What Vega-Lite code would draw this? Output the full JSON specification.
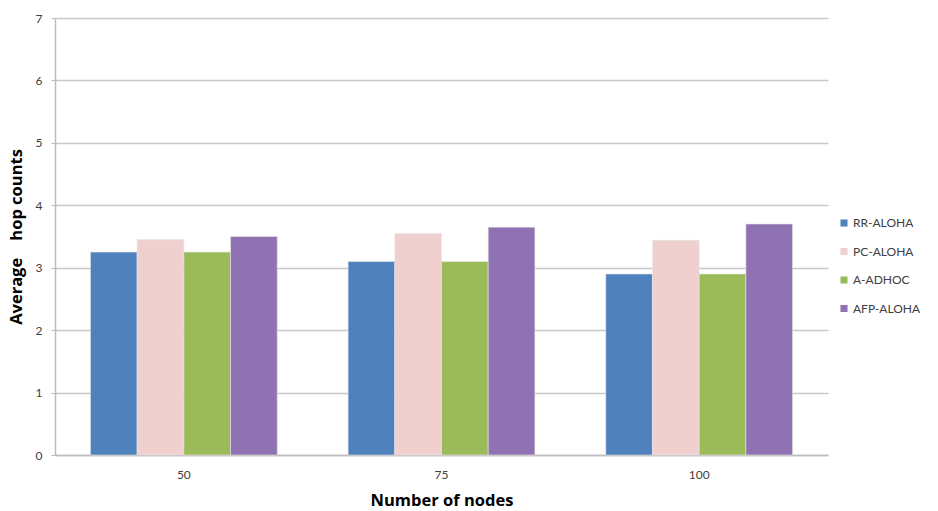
{
  "$schema": "https://vega.github.io/schema/vega-lite/v6.json",
  "width": 773,
  "height": 437,
  "autosize": {"type": "none"},
  "padding": {"left": 55, "top": 18, "right": 110, "bottom": 56},
  "background": "white",
  "data": {
    "values": [
      {"nodes": "50", "protocol": "RR-ALOHA", "hops": 3.25},
      {"nodes": "50", "protocol": "PC-ALOHA", "hops": 3.45},
      {"nodes": "50", "protocol": "A-ADHOC", "hops": 3.25},
      {"nodes": "50", "protocol": "AFP-ALOHA", "hops": 3.5},
      {"nodes": "75", "protocol": "RR-ALOHA", "hops": 3.1},
      {"nodes": "75", "protocol": "PC-ALOHA", "hops": 3.55},
      {"nodes": "75", "protocol": "A-ADHOC", "hops": 3.1},
      {"nodes": "75", "protocol": "AFP-ALOHA", "hops": 3.65},
      {"nodes": "100", "protocol": "RR-ALOHA", "hops": 2.9},
      {"nodes": "100", "protocol": "PC-ALOHA", "hops": 3.44},
      {"nodes": "100", "protocol": "A-ADHOC", "hops": 2.9},
      {"nodes": "100", "protocol": "AFP-ALOHA", "hops": 3.7}
    ]
  },
  "config": {
    "font": "Lato",
    "view": {"stroke": null},
    "axis": {
      "labelFont": "Lato",
      "labelColor": "#404040",
      "labelFontSize": 12,
      "titleFont": "Open Sans",
      "titleFontWeight": "bold",
      "titleFontSize": 16.5,
      "titleColor": "#000000",
      "domainColor": "#BDBDBD",
      "gridColor": "#C8C8C8",
      "tickColor": "#BDBDBD"
    }
  },
  "mark": {"type": "bar", "stroke": "#E8E8E8", "strokeWidth": 0.6},
  "encoding": {
    "x": {
      "field": "nodes",
      "type": "nominal",
      "sort": ["50", "75", "100"],
      "scale": {"paddingInner": 0.275, "paddingOuter": 0.1375},
      "axis": {
        "title": "Number of nodes",
        "labelAngle": 0,
        "ticks": false,
        "labelPadding": 14,
        "titlePadding": 12,
        "domainWidth": 1.5
      }
    },
    "xOffset": {
      "field": "protocol",
      "type": "nominal",
      "sort": ["RR-ALOHA", "PC-ALOHA", "A-ADHOC", "AFP-ALOHA"],
      "scale": {"paddingInner": 0, "paddingOuter": 0}
    },
    "y": {
      "field": "hops",
      "type": "quantitative",
      "scale": {"domain": [0, 7], "nice": false},
      "axis": {
        "title": "Average\u00a0\u00a0\u00a0 hop counts",
        "values": [0, 1, 2, 3, 4, 5, 6, 7],
        "tickSize": 4,
        "labelPadding": 9,
        "titlePadding": 11,
        "gridWidth": 1.5,
        "domainWidth": 1.5
      }
    },
    "color": {
      "field": "protocol",
      "type": "nominal",
      "sort": ["RR-ALOHA", "PC-ALOHA", "A-ADHOC", "AFP-ALOHA"],
      "scale": {
        "domain": ["RR-ALOHA", "PC-ALOHA", "A-ADHOC", "AFP-ALOHA"],
        "range": ["#4F81BD", "#EFD0CF", "#9BBB59", "#8E72B2"]
      },
      "legend": {
        "title": null,
        "orient": "none",
        "legendX": 783,
        "legendY": 199,
        "symbolType": "square",
        "symbolSize": 50,
        "symbolStrokeWidth": 0,
        "labelFont": "Lato",
        "labelFontSize": 12,
        "labelColor": "#404040",
        "rowPadding": 16.5,
        "labelOffset": 3
      }
    }
  }
}
